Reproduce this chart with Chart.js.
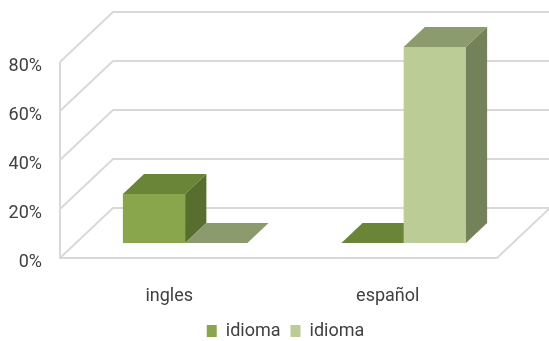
<!DOCTYPE html>
<html><head><meta charset="utf-8">
<script src="https://cdn.jsdelivr.net/npm/chart.js@4.4.0/dist/chart.umd.min.js"></script>
<style>html,body{margin:0;padding:0;background:#fff;} #wrap{width:549px;height:341px;}</style>
</head><body><div id="wrap"><canvas id="c" width="549" height="341"></canvas></div>
<script>
const categories = ['ingles', 'español'];
const seriesNames = ['idioma', 'idioma'];
const series1 = [20, 0];
const series2 = [0, 80];
const yTicks = [0, 20, 40, 60, 80];

const FONT = 'Roboto, "Liberation Sans", sans-serif';
const TEXT = '#404040';
const faces = [
  {front: '#8AA64D', top: '#6B8538', side: '#586E2D'},
  {front: '#BBCC96', top: '#8C9B6E', side: '#74825A'}
];
const WALL_DX = 53, WALL_DY = -50;
const BAR_NEAR = 0.3, BAR_FAR = 0.7;
const LEGEND_SHIFT = 22;

const plugin3d = {
  id: 'bars3d',
  afterLayout(chart) {
    if (chart.legend) { chart.legend.left += LEGEND_SHIFT; }
  },
  beforeDatasetsDraw(chart) {
    const ctx = chart.ctx;
    const y = chart.scales.y;
    const ca = chart.chartArea;
    ctx.save();
    ctx.strokeStyle = '#D9D9D9';
    ctx.lineWidth = 2;
    const y0 = y.getPixelForValue(yTicks[0]);
    const yMax = y.getPixelForValue(yTicks[yTicks.length - 1]);
    yTicks.forEach(v => {
      const py = y.getPixelForValue(v);
      ctx.beginPath();
      ctx.moveTo(ca.left, py);
      ctx.lineTo(ca.left + WALL_DX, py + WALL_DY);
      ctx.lineTo(ca.right + WALL_DX, py + WALL_DY);
      ctx.stroke();
    });
    ctx.beginPath();
    ctx.moveTo(ca.left, yMax);
    ctx.lineTo(ca.left, y0);
    ctx.lineTo(ca.right, y0);
    ctx.lineTo(ca.right + WALL_DX, y0 + WALL_DY);
    ctx.stroke();

    const bx = WALL_DX * BAR_NEAR, by = WALL_DY * BAR_NEAR;
    const ddx = WALL_DX * (BAR_FAR - BAR_NEAR), ddy = WALL_DY * (BAR_FAR - BAR_NEAR);
    const metas = chart.data.datasets.map((d, i) => chart.getDatasetMeta(i));
    for (let c = 0; c < categories.length; c++) {
      metas.forEach((meta, di) => {
        const el = meta.data[c];
        const p = el.getProps(['x', 'y', 'base', 'width'], true);
        const l = p.x - p.width / 2 + bx, r = p.x + p.width / 2 + bx;
        const t = Math.min(p.y, p.base) + by, b = Math.max(p.y, p.base) + by;
        const f = faces[di];
        ctx.fillStyle = f.front;
        ctx.fillRect(l, t, r - l, b - t);
        ctx.fillStyle = f.top;
        ctx.beginPath();
        ctx.moveTo(l, t); ctx.lineTo(l + ddx, t + ddy); ctx.lineTo(r + ddx, t + ddy); ctx.lineTo(r, t);
        ctx.closePath(); ctx.fill();
        if (b - t > 0.5) {
          ctx.fillStyle = f.side;
          ctx.beginPath();
          ctx.moveTo(r, t); ctx.lineTo(r + ddx, t + ddy); ctx.lineTo(r + ddx, b + ddy); ctx.lineTo(r, b);
          ctx.closePath(); ctx.fill();
        }
      });
    }
    ctx.restore();
    return false;
  }
};

new Chart(document.getElementById('c'), {
  type: 'bar',
  data: {
    labels: categories,
    datasets: [
      {label: seriesNames[0], data: series1, backgroundColor: faces[0].front, borderWidth: 0},
      {label: seriesNames[1], data: series2, backgroundColor: faces[1].front, borderWidth: 0}
    ]
  },
  options: {
    responsive: false,
    animation: false,
    devicePixelRatio: 1,
    categoryPercentage: 0.57,
    barPercentage: 1,
    layout: {padding: {left: 0, right: 0, top: 62, bottom: -9}},
    plugins: {
      legend: {
        position: 'bottom',
        labels: {font: {family: FONT, size: 18}, color: TEXT, boxWidth: 10, boxHeight: 12, padding: 10}
      },
      tooltip: {enabled: false}
    },
    scales: {
      x: {
        type: 'category',
        offset: true,
        grid: {display: false, drawTicks: false},
        border: {display: false},
        ticks: {font: {family: FONT, size: 18}, color: TEXT, padding: 28, maxRotation: 0},
        afterFit(s) { s.height = 54; }
      },
      y: {
        type: 'linear',
        position: 'left',
        min: 0, max: 80,
        grid: {display: false, drawTicks: false},
        border: {display: false},
        ticks: {stepSize: 20, font: {family: FONT, size: 18}, color: TEXT, padding: 18, labelOffset: 4,
                callback: v => v + '%'},
        afterFit(s) { s.width = 60; }
      },
      y2: {
        type: 'linear',
        position: 'right',
        grid: {display: false, drawTicks: false},
        border: {display: false},
        ticks: {display: false},
        afterFit(s) { s.width = 52; }
      }
    }
  },
  plugins: [plugin3d]
});
</script>
</body></html>
